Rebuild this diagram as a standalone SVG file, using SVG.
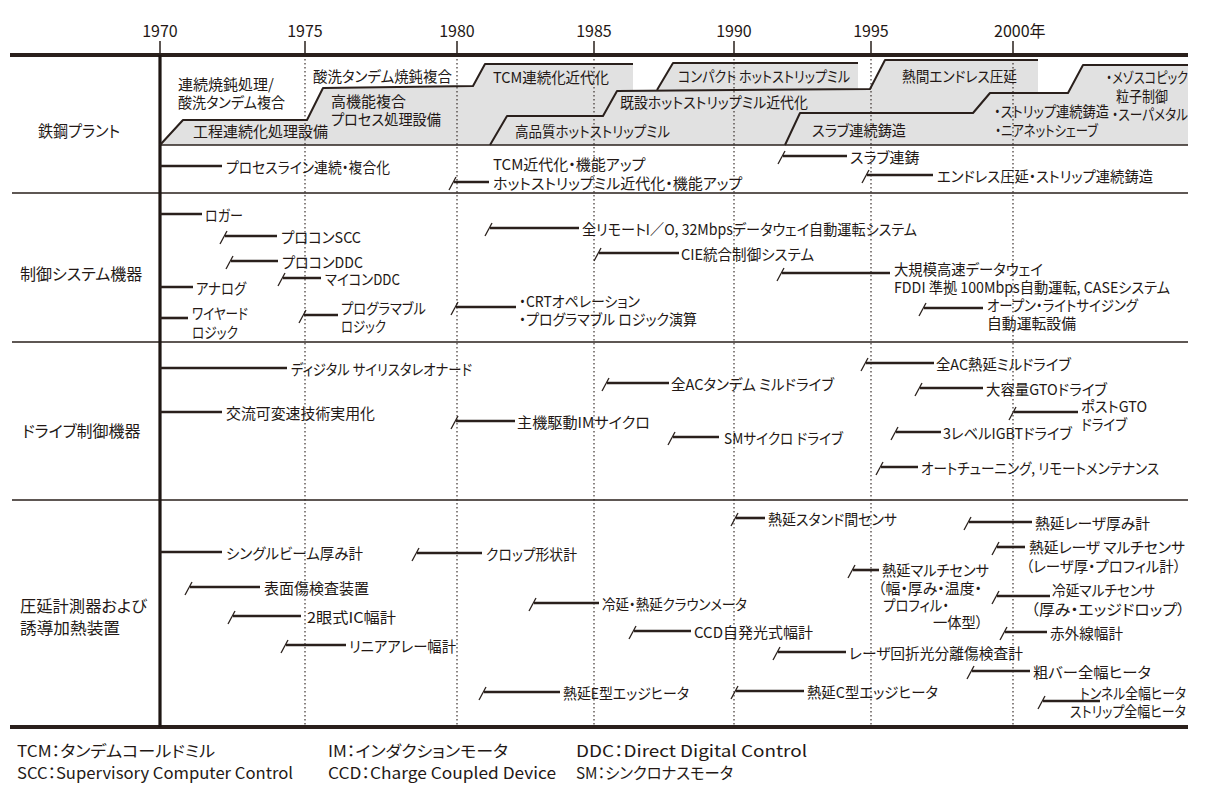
<svg xmlns="http://www.w3.org/2000/svg" width="1208" height="799" viewBox="0 0 1208 799">
<style>
text{font-family:"Noto Sans CJK JP","Noto Sans",sans-serif;fill:#231815;font-feature-settings:"palt";dominant-baseline:central}
.it{font-size:15px}
.lb{font-size:16px}
.yr{font-size:16px;text-anchor:middle}
.lg{font-size:16px}
.hl{stroke:#2a201c;stroke-width:2.6;fill:none}
.sl{stroke:#2a201c;stroke-width:1.3;fill:none}
.sec{stroke:#2a201c;stroke-width:1.6;fill:none}
.thick{stroke:#2a201c;stroke-width:4;fill:none}
.tick{stroke:#2a201c;stroke-width:1.5;fill:none}
.dot{stroke:#2a201c;stroke-width:1.1;stroke-dasharray:1.6 2.4;fill:none}
.band{fill:#e1e1e1}
.step{stroke:#2a201c;stroke-width:2;fill:none;stroke-linejoin:round}
</style>
<rect width="1208" height="799" fill="#ffffff"/>

<g id="axis">
  <text class="yr" x="160" y="30">1970</text>
  <text class="yr" x="305" y="30">1975</text>
  <text class="yr" x="457" y="30">1980</text>
  <text class="yr" x="594" y="30">1985</text>
  <text class="yr" x="734" y="30">1990</text>
  <text class="yr" x="871" y="30">1995</text>
  <text class="lg" x="994" y="30">2000年</text>
  <path class="tick" d="M160,41V55M305,41V55M457,41V55M594,41V55M734,41V55M871,41V55M1013,41V55"/>
</g>

<g id="plant-band">
  <path class="band" d="M160,145 L183,120 L307,120 L323,88 L473,86 L485,64 L633,64 L633,91 L657,90 L673,63 L858,63 L858,89 L870,89 L885,60 L1038,60 L1038,93 L1068,93 L1083,65 L1188,65 L1188,145 Z"/>
</g>

<g id="grid">
  <path class="dot" d="M305,55V727M457,55V727M594,55V727M734,55V727M871,55V727M1013,55V727"/>
  <path class="thick" d="M10,55H1188"/>
  <path class="thick" d="M10,727H1188"/>
  <path class="sec" d="M12,193H1188M12,342H1188M12,500H1188"/>
  <path class="sec" d="M160,145H1188"/>
  <path d="M160,55V727" stroke="#1e1613" stroke-width="3.2" fill="none"/>
  <path class="step" d="M160,145 L183,120 L307,120 L323,88 L473,86 L485,64 L633,64"/>
  <path class="step" d="M490,145 L507,116 L603,116 L617,91 L870,89 L885,60 L1038,60"/>
  <path class="step" d="M657,90 L673,63 L858,63"/>
  <path class="step" d="M785,145 L800,113 L973,113 L990,93 L1068,93 L1083,65 L1188,65"/>
</g>

<g id="labels">
  <text class="lb" x="38" y="130" textLength="82" lengthAdjust="spacingAndGlyphs">鉄鋼プラント</text>
  <text class="lb" x="20" y="273">制御システム機器</text>
  <text class="lb" x="22" y="430">ドライブ制御機器</text>
  <text class="lb" x="20" y="605" textLength="127" lengthAdjust="spacingAndGlyphs">圧延計測器および</text>
  <text class="lb" x="20" y="627" textLength="100" lengthAdjust="spacingAndGlyphs">誘導加熱装置</text>
</g>

<g id="plant-blocks">
  <text class="it" x="178" y="83">連続焼鈍処理/</text>
  <text class="it" x="178" y="101" textLength="107" lengthAdjust="spacingAndGlyphs">酸洗タンデム複合</text>
  <text class="it" x="193" y="130">工程連続化処理設備</text>
  <text class="it" x="313" y="75" textLength="139" lengthAdjust="spacingAndGlyphs">酸洗タンデム焼鈍複合</text>
  <text class="it" x="331" y="100">高機能複合</text>
  <text class="it" x="331" y="118" textLength="110" lengthAdjust="spacingAndGlyphs">プロセス処理設備</text>
  <text class="it" x="493" y="76" textLength="116" lengthAdjust="spacingAndGlyphs">TCM連続化近代化</text>
  <text class="it" x="515" y="130" textLength="155" lengthAdjust="spacingAndGlyphs">高品質ホットストリップミル</text>
  <text class="it" x="620" y="101" textLength="188" lengthAdjust="spacingAndGlyphs">既設ホットストリップミル近代化</text>
  <text class="it" x="678" y="75" textLength="172" lengthAdjust="spacingAndGlyphs">コンパクト ホットストリップミル</text>
  <text class="it" x="902" y="75" textLength="115" lengthAdjust="spacingAndGlyphs">熱間エンドレス圧延</text>
  <text class="it" x="812" y="129" textLength="94" lengthAdjust="spacingAndGlyphs">スラブ連続鋳造</text>
  <text class="it" x="994" y="110" textLength="115" lengthAdjust="spacingAndGlyphs">・ストリップ連続鋳造</text>
  <text class="it" x="995" y="129" textLength="103" lengthAdjust="spacingAndGlyphs">・ニアネットシェーブ</text>
  <text class="it" x="1106" y="76" textLength="82" lengthAdjust="spacingAndGlyphs">・メゾスコピック</text>
  <text class="it" x="1116" y="95" textLength="52" lengthAdjust="spacingAndGlyphs">粒子制御</text>
  <text class="it" x="1112" y="113" textLength="76" lengthAdjust="spacingAndGlyphs">・スーパメタル</text>
</g>

<g id="connectors">
  <!-- plant -->
  <path class="hl" d="M160,166H222"/>
  <path class="sl" d="M449,190L456,177"/><path class="hl" d="M454,182H489"/>
  <path class="sl" d="M778,164L785,151"/><path class="hl" d="M783,156H847"/>
  <path class="sl" d="M862,183L869,170"/><path class="hl" d="M867,175H933"/>
  <!-- control -->
  <path class="hl" d="M160,214H202"/>
  <path class="sl" d="M220,244L227,231"/><path class="hl" d="M225,236H277"/>
  <path class="sl" d="M226,269L233,256"/><path class="hl" d="M231,261H278"/>
  <path class="hl" d="M160,287H193"/>
  <path class="sl" d="M278,286L285,273"/><path class="hl" d="M283,278H321"/>
  <path class="hl" d="M160,318H188"/>
  <path class="sl" d="M299,323L306,310"/><path class="hl" d="M304,315H338"/>
  <path class="sl" d="M451,315L458,302"/><path class="hl" d="M456,307H516"/>
  <path class="sl" d="M485,236L492,223"/><path class="hl" d="M490,228H579"/>
  <path class="sl" d="M594,261L601,248"/><path class="hl" d="M599,253H679"/>
  <path class="sl" d="M777,281L784,268"/><path class="hl" d="M782,273H890"/>
  <path class="sl" d="M919,316L926,303"/><path class="hl" d="M924,308H983"/>
  <!-- drive -->
  <path class="hl" d="M160,368H287"/>
  <path class="hl" d="M160,412H222"/>
  <path class="sl" d="M451,429L458,416"/><path class="hl" d="M456,421H515"/>
  <path class="sl" d="M602,391L609,378"/><path class="hl" d="M607,383H669"/>
  <path class="sl" d="M668,445L675,432"/><path class="hl" d="M673,437H719"/>
  <path class="sl" d="M861,371L868,358"/><path class="hl" d="M866,363H934"/>
  <path class="sl" d="M915,396L922,383"/><path class="hl" d="M920,388H983"/>
  <path class="sl" d="M1009,420L1016,407"/><path class="hl" d="M1014,412H1078"/>
  <path class="sl" d="M891,440L898,427"/><path class="hl" d="M896,432H941"/>
  <path class="sl" d="M876,475L883,462"/><path class="hl" d="M881,467H918"/>
  <!-- instruments -->
  <path class="hl" d="M160,552H222"/>
  <path class="sl" d="M185,595L192,582"/><path class="hl" d="M190,587H260"/>
  <path class="sl" d="M228,624L235,611"/><path class="hl" d="M233,616H301"/>
  <path class="sl" d="M281,653L288,640"/><path class="hl" d="M286,645H346"/>
  <path class="sl" d="M412,561L419,548"/><path class="hl" d="M417,553H482"/>
  <path class="sl" d="M529,611L536,598"/><path class="hl" d="M534,603H599"/>
  <path class="sl" d="M479,700L486,687"/><path class="hl" d="M484,692H560"/>
  <path class="sl" d="M731,526L738,513"/><path class="hl" d="M736,518H765"/>
  <path class="sl" d="M964,530L971,517"/><path class="hl" d="M969,522H1032"/>
  <path class="sl" d="M992,555L999,542"/><path class="hl" d="M997,547H1025"/>
  <path class="sl" d="M848,578L855,565"/><path class="hl" d="M853,570H879"/>
  <path class="sl" d="M992,604L999,591"/><path class="hl" d="M997,596H1050"/>
  <path class="sl" d="M1000,640L1007,627"/><path class="hl" d="M1005,632H1047"/>
  <path class="sl" d="M629,639L636,626"/><path class="hl" d="M634,631H691"/>
  <path class="sl" d="M773,660L780,647"/><path class="hl" d="M778,652H846"/>
  <path class="sl" d="M967,679L974,666"/><path class="hl" d="M972,671H1030"/>
  <path class="sl" d="M731,699L738,686"/><path class="hl" d="M736,691H804"/>
  <path class="sl" d="M1038,709L1045,696"/><path class="hl" d="M1043,701H1100"/>
</g>

<g id="plant-items">
  <g id="p1"><text class="it" x="226" y="166" textLength="164" lengthAdjust="spacingAndGlyphs">プロセスライン連続・複合化</text></g>
  <g id="p2"><text class="it" x="493" y="163">TCM近代化・機能アップ</text><text class="it" x="493" y="182">ホットストリップミル近代化・機能アップ</text></g>
  <g id="p3"><text class="it" x="850" y="156">スラブ連鋳</text></g>
  <g id="p4"><text class="it" x="937" y="175" textLength="216" lengthAdjust="spacingAndGlyphs">エンドレス圧延・ストリップ連続鋳造</text></g>
</g>

<g id="control-items">
  <g id="c1"><text class="it" x="205" y="214" textLength="38" lengthAdjust="spacingAndGlyphs">ロガー</text></g>
  <g id="c2"><text class="it" x="281" y="236" textLength="80" lengthAdjust="spacingAndGlyphs">プロコンSCC</text></g>
  <g id="c3"><text class="it" x="282" y="261" textLength="81" lengthAdjust="spacingAndGlyphs">プロコンDDC</text></g>
  <g id="c4"><text class="it" x="196" y="287" textLength="50" lengthAdjust="spacingAndGlyphs">アナログ</text></g>
  <g id="c5"><text class="it" x="325" y="278" textLength="75" lengthAdjust="spacingAndGlyphs">マイコンDDC</text></g>
  <g id="c6"><text class="it" x="192" y="312" textLength="56" lengthAdjust="spacingAndGlyphs">ワイヤード</text><text class="it" x="192" y="331" textLength="46" lengthAdjust="spacingAndGlyphs">ロジック</text></g>
  <g id="c7"><text class="it" x="341" y="307" textLength="85" lengthAdjust="spacingAndGlyphs">プログラマブル</text><text class="it" x="341" y="325" textLength="45" lengthAdjust="spacingAndGlyphs">ロジック</text></g>
  <g id="c8"><text class="it" x="519" y="300" textLength="121" lengthAdjust="spacingAndGlyphs">・CRTオペレーション</text><text class="it" x="519" y="318" textLength="178" lengthAdjust="spacingAndGlyphs">・プログラマブル ロジック演算</text></g>
  <g id="c9"><text class="it" x="582" y="228" textLength="335" lengthAdjust="spacingAndGlyphs">全リモートI／O, 32Mbpsデータウェイ自動運転システム</text></g>
  <g id="c10"><text class="it" x="681" y="253" textLength="133" lengthAdjust="spacingAndGlyphs">CIE統合制御システム</text></g>
  <g id="c11"><text class="it" x="894" y="268" textLength="149" lengthAdjust="spacingAndGlyphs">大規模高速データウェイ</text><text class="it" x="894" y="286" textLength="276" lengthAdjust="spacingAndGlyphs">FDDI 準拠 100Mbps自動運転, CASEシステム</text></g>
  <g id="c12"><text class="it" x="987" y="304" textLength="151" lengthAdjust="spacingAndGlyphs">オープン・ライトサイジング</text><text class="it" x="987" y="322" textLength="89" lengthAdjust="spacingAndGlyphs">自動運転設備</text></g>
</g>

<g id="drive-items">
  <g id="d1"><text class="it" x="291" y="368" textLength="181" lengthAdjust="spacingAndGlyphs">ディジタル サイリスタレオナード</text></g>
  <g id="d2"><text class="it" x="226" y="412" textLength="149" lengthAdjust="spacingAndGlyphs">交流可変速技術実用化</text></g>
  <g id="d3"><text class="it" x="517" y="421" textLength="133" lengthAdjust="spacingAndGlyphs">主機駆動IMサイクロ</text></g>
  <g id="d4"><text class="it" x="671" y="383" textLength="163" lengthAdjust="spacingAndGlyphs">全ACタンデム ミルドライブ</text></g>
  <g id="d5"><text class="it" x="724" y="437" textLength="119" lengthAdjust="spacingAndGlyphs">SMサイクロ ドライブ</text></g>
  <g id="d6"><text class="it" x="936" y="363" textLength="135" lengthAdjust="spacingAndGlyphs">全AC熱延ミルドライブ</text></g>
  <g id="d7"><text class="it" x="986" y="388" textLength="121" lengthAdjust="spacingAndGlyphs">大容量GTOドライブ</text></g>
  <g id="d8"><text class="it" x="1081" y="405" textLength="66" lengthAdjust="spacingAndGlyphs">ポストGTO</text><text class="it" x="1081" y="423" textLength="46" lengthAdjust="spacingAndGlyphs">ドライブ</text></g>
  <g id="d9"><text class="it" x="943" y="432" textLength="129" lengthAdjust="spacingAndGlyphs">3レベルIGBTドライブ</text></g>
  <g id="d10"><text class="it" x="921" y="467" textLength="238" lengthAdjust="spacingAndGlyphs">オートチューニング, リモートメンテナンス</text></g>
</g>

<g id="instrument-items">
  <g id="i1"><text class="it" x="226" y="552" textLength="137" lengthAdjust="spacingAndGlyphs">シングルビーム厚み計</text></g>
  <g id="i2"><text class="it" x="264" y="587" textLength="105" lengthAdjust="spacingAndGlyphs">表面傷検査装置</text></g>
  <g id="i3"><text class="it" x="307" y="616" textLength="89" lengthAdjust="spacingAndGlyphs">2眼式IC幅計</text></g>
  <g id="i4"><text class="it" x="349" y="645" textLength="107" lengthAdjust="spacingAndGlyphs">リニアアレー幅計</text></g>
  <g id="i5"><text class="it" x="486" y="553" textLength="91" lengthAdjust="spacingAndGlyphs">クロップ形状計</text></g>
  <g id="i6"><text class="it" x="602" y="603" textLength="145" lengthAdjust="spacingAndGlyphs">冷延・熱延クラウンメータ</text></g>
  <g id="i7"><text class="it" x="563" y="692" textLength="126" lengthAdjust="spacingAndGlyphs">熱延E型エッジヒータ</text></g>
  <g id="i8"><text class="it" x="768" y="518" textLength="129" lengthAdjust="spacingAndGlyphs">熱延スタンド間センサ</text></g>
  <g id="i9"><text class="it" x="1035" y="522" textLength="115" lengthAdjust="spacingAndGlyphs">熱延レーザ厚み計</text></g>
  <g id="i10"><text class="it" x="1029" y="546" textLength="156" lengthAdjust="spacingAndGlyphs">熱延レーザ マルチセンサ</text><text class="it" x="1026" y="565" textLength="155" lengthAdjust="spacingAndGlyphs">（レーザ厚・プロフィル計）</text></g>
  <g id="i11"><text class="it" x="882" y="569" textLength="107" lengthAdjust="spacingAndGlyphs">熱延マルチセンサ</text><text class="it" x="878" y="587" textLength="104" lengthAdjust="spacingAndGlyphs">（幅・厚み・温度・</text><text class="it" x="883" y="604" textLength="66" lengthAdjust="spacingAndGlyphs">プロフィル・</text><text class="it" x="933" y="621" textLength="50" lengthAdjust="spacingAndGlyphs">一体型）</text></g>
  <g id="i12"><text class="it" x="1052" y="589" textLength="103" lengthAdjust="spacingAndGlyphs">冷延マルチセンサ</text><text class="it" x="1031" y="608" textLength="154" lengthAdjust="spacingAndGlyphs">（厚み・エッジドロップ）</text></g>
  <g id="i13"><text class="it" x="1050" y="632" textLength="73" lengthAdjust="spacingAndGlyphs">赤外線幅計</text></g>
  <g id="i14"><text class="it" x="694" y="631" textLength="119" lengthAdjust="spacingAndGlyphs">CCD自発光式幅計</text></g>
  <g id="i15"><text class="it" x="849" y="652" textLength="174" lengthAdjust="spacingAndGlyphs">レーザ回折光分離傷検査計</text></g>
  <g id="i16"><text class="it" x="1033" y="671" textLength="118" lengthAdjust="spacingAndGlyphs">粗バー全幅ヒータ</text></g>
  <g id="i17"><text class="it" x="807" y="691" textLength="131" lengthAdjust="spacingAndGlyphs">熱延C型エッジヒータ</text></g>
  <g id="i18"><text class="it" x="1080" y="692" textLength="106" lengthAdjust="spacingAndGlyphs">トンネル全幅ヒータ</text><text class="it" x="1070" y="710" textLength="116" lengthAdjust="spacingAndGlyphs">ストリップ全幅ヒータ</text></g>
</g>

<g id="legend">
  <text class="lg" x="17" y="750" textLength="198" lengthAdjust="spacingAndGlyphs">TCM：タンデムコールドミル</text>
  <text class="lg" x="17" y="772" textLength="276" lengthAdjust="spacingAndGlyphs">SCC：Supervisory Computer Control</text>
  <text class="lg" x="328" y="750" textLength="180" lengthAdjust="spacingAndGlyphs">IM：インダクションモータ</text>
  <text class="lg" x="328" y="772" textLength="228" lengthAdjust="spacingAndGlyphs">CCD：Charge Coupled Device</text>
  <text class="lg" x="576" y="750" textLength="231" lengthAdjust="spacingAndGlyphs">DDC：Direct Digital Control</text>
  <text class="lg" x="576" y="772" textLength="157" lengthAdjust="spacingAndGlyphs">SM：シンクロナスモータ</text>
</g>
</svg>
